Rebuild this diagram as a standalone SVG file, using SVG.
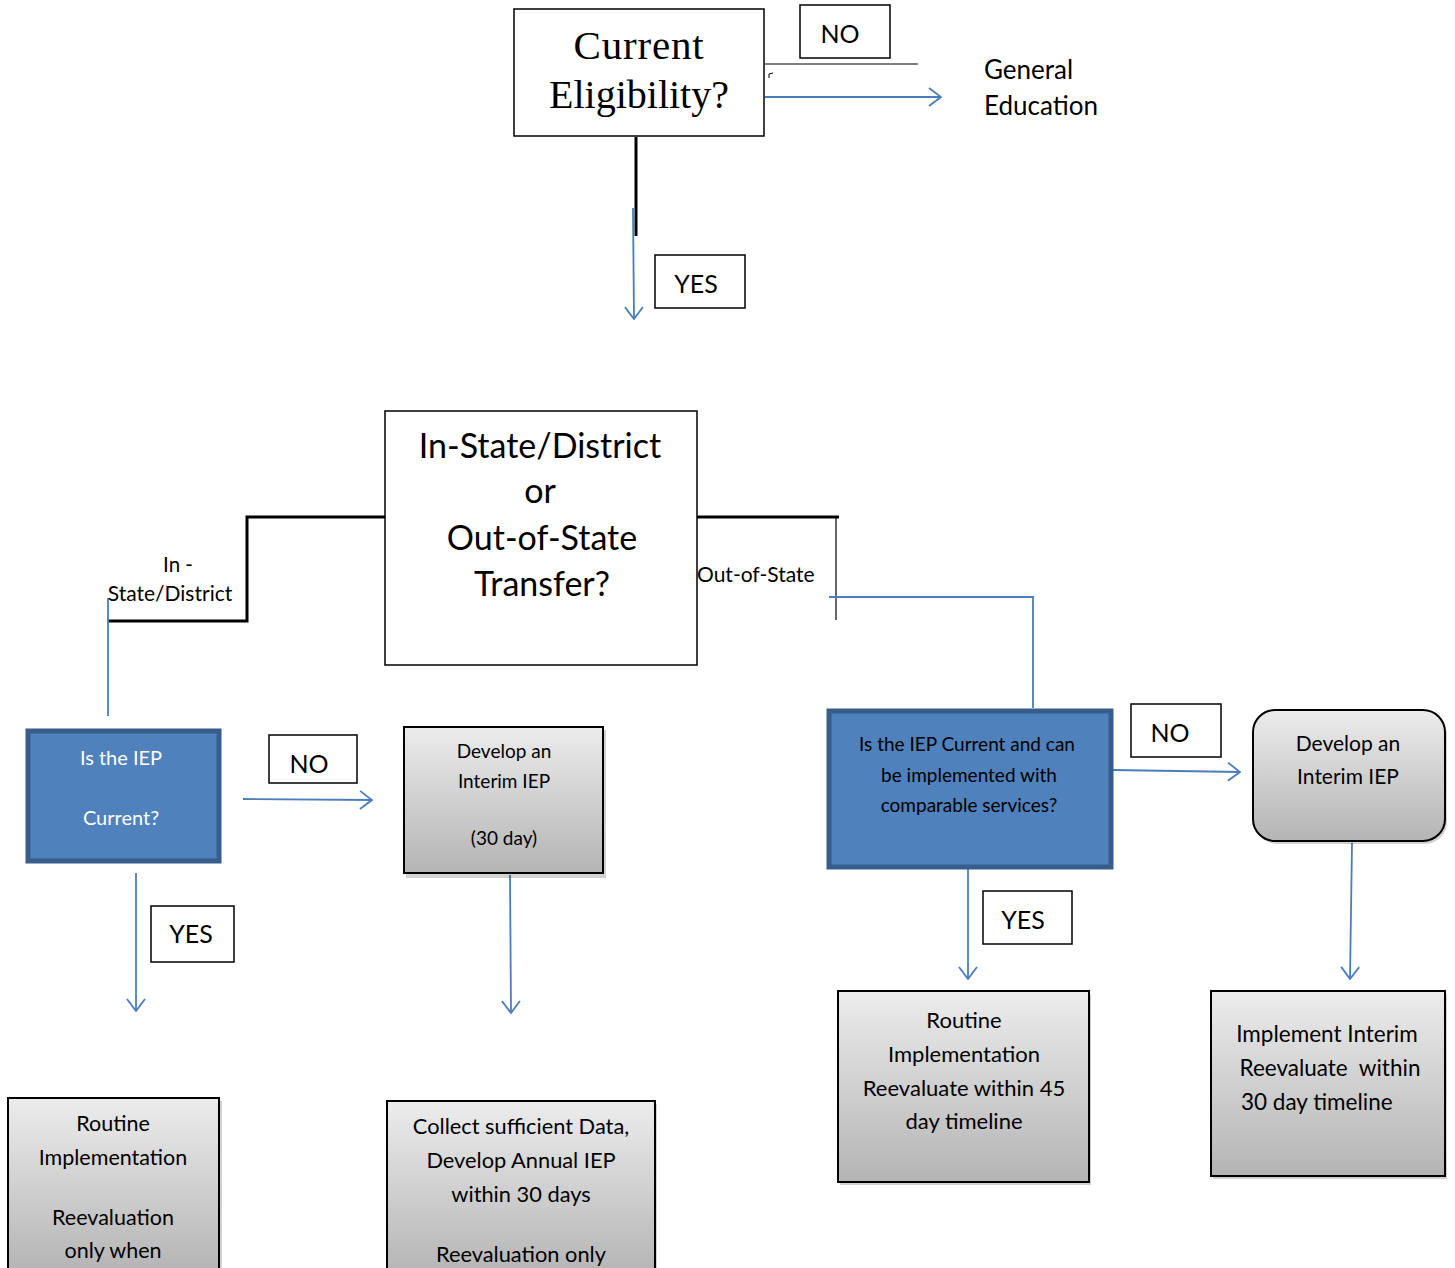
<svg xmlns="http://www.w3.org/2000/svg" width="1455" height="1268" viewBox="0 0 1455 1268">
<style>
.box{fill:#fff;stroke:#000;stroke-width:1.5}
.lbl{fill:#fff;stroke:#000;stroke-width:1.5}
.blue{fill:#4f81bd;stroke:#385d8a;stroke-width:5}
.gray{fill:url(#g);stroke:#000;stroke-width:2}
.sh{fill:#000;opacity:0.18}
.t{font-family:Lato,"Open Sans","Liberation Sans",sans-serif;fill:#000;text-anchor:middle}
.s{font-family:"Liberation Serif",serif;fill:#000;text-anchor:middle}
.c{fill:none;stroke:#4a7ebb;stroke-width:1.8}
.k{fill:none;stroke:#000}
</style>
<defs>
<linearGradient id="g" x1="0" y1="0" x2="0" y2="1">
<stop offset="0" stop-color="#ececec"/>
<stop offset="1" stop-color="#b4b4b4"/>
</linearGradient>
<marker id="a" viewBox="0 0 14 20" refX="13" refY="10" markerWidth="14" markerHeight="20" markerUnits="userSpaceOnUse" orient="auto">
<path d="M1,1 L13,10 L1,19" fill="none" stroke="#4a7ebb" stroke-width="1.8"/>
</marker>
</defs>

<g id="connectors">
<line class="k" x1="765" y1="64" x2="918" y2="64" stroke-width="1"/>
<path class="k" d="M769,78 L769,74 L773,73" stroke-width="1"/>
<line class="c" x1="765" y1="97" x2="941" y2="97" marker-end="url(#a)"/>
<line class="k" x1="636" y1="137" x2="636" y2="236" stroke-width="3"/>
<line class="c" x1="633" y1="208" x2="634" y2="319" marker-end="url(#a)"/>
<polyline class="k" points="385,517 247,517 247,621 108,621" stroke-width="3"/>
<line class="c" x1="108" y1="598" x2="108" y2="716"/>
<line class="k" x1="697" y1="517" x2="839" y2="517" stroke-width="3"/>
<line class="k" x1="836" y1="517" x2="836" y2="620" stroke-width="1.2"/>
<polyline class="c" points="829,597 1033,597 1033,708"/>
<line class="c" x1="243" y1="799" x2="372" y2="800" marker-end="url(#a)"/>
<line class="c" x1="136" y1="873" x2="136" y2="1011" marker-end="url(#a)"/>
<line class="c" x1="510" y1="875" x2="511" y2="1013" marker-end="url(#a)"/>
<line class="c" x1="1113" y1="770" x2="1240" y2="772" marker-end="url(#a)"/>
<line class="c" x1="968" y1="869" x2="968" y2="979" marker-end="url(#a)"/>
<line class="c" x1="1352" y1="843" x2="1350" y2="979" marker-end="url(#a)"/>
</g>

<g id="current-eligibility">
<rect class="box" x="514" y="9" width="250" height="127"/>
<text class="s" x="639" y="59" font-size="41" letter-spacing="0.8">Current</text>
<text class="s" x="639" y="108" font-size="40">Eligibility?</text>
</g>
<g id="no-top">
<rect class="lbl" x="800" y="5" width="90" height="53"/>
<text class="t" x="840" y="43" font-size="25">NO</text>
</g>
<g id="general-education">
<text class="t" x="984" y="79" font-size="26" style="text-anchor:start">General</text>
<text class="t" x="984" y="115" font-size="26" style="text-anchor:start">Education</text>
</g>
<g id="yes-top">
<rect class="lbl" x="655" y="255" width="90" height="53"/>
<text class="t" x="696" y="293" font-size="25">YES</text>
</g>

<g id="transfer">
<rect class="box" x="385" y="411" width="312" height="254" stroke-width="2"/>
<text class="t" x="540" y="458" font-size="34">In-State/District</text>
<text class="t" x="540" y="503" font-size="34">or</text>
<text class="t" x="542" y="550" font-size="34">Out-of-State</text>
<text class="t" x="542" y="596" font-size="34">Transfer?</text>
</g>
<g id="in-state-label">
<text class="t" x="178" y="572" font-size="20.5">In -</text>
<text class="t" x="170" y="601" font-size="21">State/District</text>
</g>
<g id="out-of-state-label">
<text class="t" x="697" y="582" font-size="21" style="text-anchor:start">Out-of-State</text>
</g>

<g id="iep-current">
<rect class="blue" x="28" y="731" width="191" height="130"/>
<text class="t" x="121" y="765" font-size="20" style="fill:#fff">Is the IEP</text>
<text class="t" x="121" y="825" font-size="20" style="fill:#fff">Current?</text>
</g>
<g id="no-left">
<rect class="lbl" x="269" y="735" width="88" height="48"/>
<text class="t" x="309" y="773" font-size="25">NO</text>
</g>
<g id="interim-left">
<rect class="sh" x="406" y="730" width="200" height="148"/>
<rect class="gray" x="404" y="727" width="199" height="146"/>
<text class="t" x="504" y="758" font-size="19">Develop an</text>
<text class="t" x="504" y="788" font-size="19">Interim IEP</text>
<text class="t" x="504" y="845" font-size="19">(30 day)</text>
</g>
<g id="yes-left">
<rect class="lbl" x="151" y="906" width="83" height="56"/>
<text class="t" x="191" y="943" font-size="25">YES</text>
</g>
<g id="routine-left">
<rect class="sh" x="10" y="1101" width="212" height="175"/>
<rect class="gray" x="8" y="1098" width="211" height="175"/>
<text class="t" x="113" y="1131" font-size="21.5">Routine</text>
<text class="t" x="113" y="1165" font-size="21.5">Implementation</text>
<text class="t" x="113" y="1225" font-size="21.5">Reevaluation</text>
<text class="t" x="113" y="1258" font-size="21.5">only when</text>
</g>
<g id="collect-data">
<rect class="sh" x="389" y="1104" width="268" height="175"/>
<rect class="gray" x="387" y="1101" width="268" height="175"/>
<text class="t" x="521" y="1134" font-size="21.8">Collect sufficient Data,</text>
<text class="t" x="521" y="1168" font-size="21.8">Develop Annual IEP</text>
<text class="t" x="521" y="1202" font-size="21.8">within 30 days</text>
<text class="t" x="521" y="1262" font-size="21.8">Reevaluation only</text>
</g>

<g id="iep-comparable">
<rect class="blue" x="829" y="711" width="282" height="156"/>
<text class="t" x="967" y="751" font-size="19">Is the IEP Current and can</text>
<text class="t" x="969" y="782" font-size="19">be implemented with</text>
<text class="t" x="969" y="812" font-size="19">comparable services?</text>
</g>
<g id="no-right">
<rect class="lbl" x="1131" y="704" width="90" height="53"/>
<text class="t" x="1170" y="742" font-size="25">NO</text>
</g>
<g id="interim-right">
<rect class="sh" x="1255" y="713" width="192" height="131" rx="22"/>
<rect class="gray" x="1253" y="710" width="192" height="131" rx="22"/>
<text class="t" x="1348" y="751" font-size="21">Develop an</text>
<text class="t" x="1348" y="784" font-size="21">Interim IEP</text>
</g>
<g id="yes-right">
<rect class="lbl" x="983" y="891" width="89" height="53"/>
<text class="t" x="1023" y="929" font-size="25">YES</text>
</g>
<g id="routine-right">
<rect class="sh" x="840" y="994" width="251" height="191"/>
<rect class="gray" x="838" y="991" width="251" height="191"/>
<text class="t" x="964" y="1028" font-size="22">Routine</text>
<text class="t" x="964" y="1062" font-size="22">Implementation</text>
<text class="t" x="964" y="1096" font-size="22">Reevaluate within 45</text>
<text class="t" x="964" y="1129" font-size="22">day timeline</text>
</g>
<g id="implement-interim">
<rect class="sh" x="1213" y="994" width="234" height="185"/>
<rect class="gray" x="1211" y="991" width="234" height="185"/>
<text class="t" x="1327" y="1042" font-size="22.5">Implement Interim</text>
<text class="t" x="1330" y="1076" font-size="22.5" xml:space="preserve">Reevaluate  within</text>
<text class="t" x="1241" y="1110" font-size="22.5" style="text-anchor:start">30 day timeline</text>
</g>
</svg>
